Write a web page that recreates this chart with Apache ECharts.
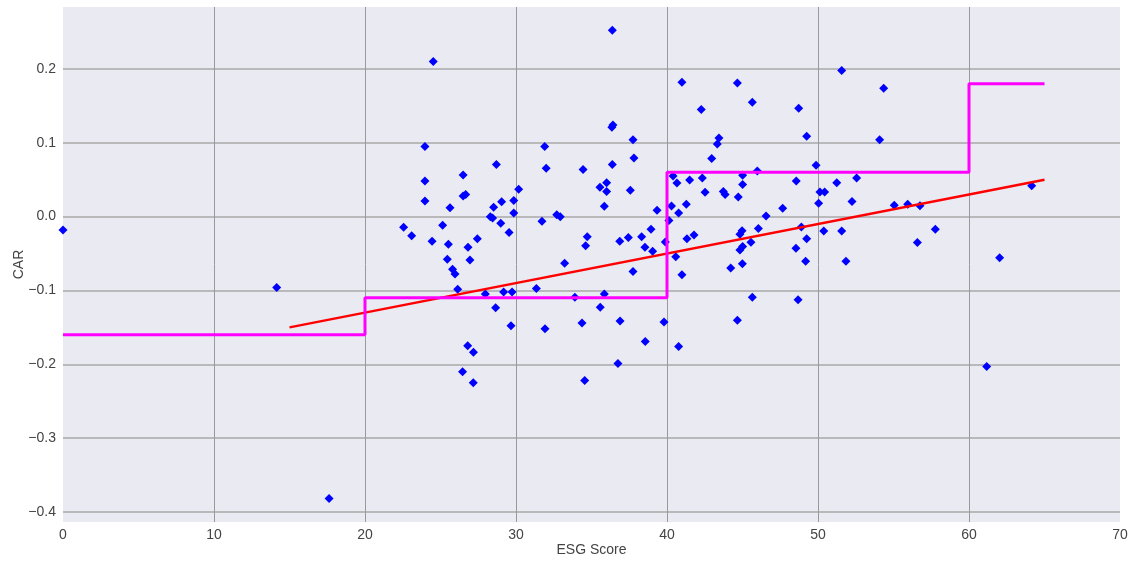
<!DOCTYPE html>
<html>
<head>
<meta charset="utf-8">
<title>CAR vs ESG Score</title>
<script src="https://cdn.jsdelivr.net/npm/echarts@6/dist/echarts.min.js"></script>
<style>
  html, body { margin: 0; padding: 0; background: #ffffff; }
  #chart { width: 1134px; height: 563px; }
</style>
</head>
<body>
<div id="chart"></div>
<script>
// Observations: ESG score and cumulative abnormal return (CAR)
const esgScore = [
  0.0, 14.15, 17.62,
  24.52, 23.97, 31.9, 28.7, 26.5, 23.97, 32.0, 30.18, 26.5, 26.67, 23.97, 29.05, 29.85,
  25.63, 28.52, 29.85, 28.3, 28.45, 31.72, 22.56, 25.14, 28.99, 29.54, 23.09, 24.44,
  25.52, 27.44, 26.82, 25.45, 26.95, 25.8, 25.96, 26.14, 27.97, 29.18, 29.74, 31.35,
  28.65, 29.67, 31.92, 26.8, 27.18, 26.46, 27.17,
  36.38, 40.99, 42.27, 36.35, 36.42, 37.75, 43.44, 43.33, 37.81, 42.96, 34.44, 36.38,
  35.56, 36.0, 36.0, 37.57, 35.85, 32.7, 32.93, 39.34, 40.3, 40.13, 40.77, 41.28,
  40.4, 40.66, 41.5, 42.34, 42.52, 43.73, 43.85, 38.94, 34.72, 34.61, 36.87, 37.44,
  38.32, 38.54, 39.05, 39.89, 41.32, 41.79, 40.58, 33.22, 37.75, 40.99, 33.9, 35.85,
  35.58, 34.37, 36.89, 39.8, 38.56, 40.77, 36.75, 34.55,
  44.66, 45.65, 51.57, 54.35, 48.72, 49.25, 54.08, 49.87, 45.98, 45.01, 45.01, 48.56,
  52.56, 51.24, 50.13, 50.44, 50.04, 52.25, 55.05, 44.72, 47.66, 46.56, 46.05, 48.9,
  50.38, 51.57, 44.97, 44.83, 45.56, 45.01, 44.83, 49.25, 48.54, 44.22, 44.99, 49.18,
  51.85, 45.65, 48.68, 44.66,
  55.94, 56.75, 57.77, 56.58, 62.03, 64.15, 61.17
];
const carValue = [
  -0.018, -0.096, -0.382,
  0.210, 0.095, 0.095, 0.0705, 0.0565, 0.0484, 0.0656, 0.037, 0.028, 0.030, 0.0213, 0.0203, 0.0217,
  0.0122, 0.0127, 0.005, 0.0, -0.0018, -0.0063, -0.0144, -0.0117, -0.009, -0.0216, -0.026, -0.0334,
  -0.0375, -0.0298, -0.0415, -0.0578, -0.0587, -0.0713, -0.0777, -0.0984, -0.1047, -0.102, -0.102, -0.0975,
  -0.1233, -0.1477, -0.152, -0.175, -0.1838, -0.210, -0.225,
  0.2526, 0.182, 0.145, 0.121, 0.124, 0.104, 0.1066, 0.0985, 0.0795, 0.0786, 0.0637, 0.0705,
  0.0398, 0.046, 0.0339, 0.0357, 0.0141, 0.0027, 0.0, 0.0087, 0.0145, -0.0054, 0.005, 0.0168,
  0.055, 0.0457, 0.0497, 0.0524, 0.033, 0.0339, 0.030, -0.0171, -0.0271, -0.0393, -0.0334, -0.0284,
  -0.0271, -0.0415, -0.047, -0.0343, -0.0298, -0.0248, -0.0542, -0.0632, -0.0745, -0.0786, -0.1093, -0.1047,
  -0.1228, -0.144, -0.1413, -0.1427, -0.169, -0.176, -0.199, -0.222,
  0.181, 0.155, 0.198, 0.174, 0.147, 0.109, 0.104, 0.0696, 0.0619, 0.056, 0.0434, 0.0484,
  0.0524, 0.046, 0.0335, 0.0335, 0.0181, 0.0204, 0.0154, 0.0267, 0.0113, 0.001, -0.0162, -0.014,
  -0.0194, -0.0194, -0.019, -0.0239, -0.0347, -0.0406, -0.0451, -0.0298, -0.0428, -0.0695, -0.0637, -0.0605,
  -0.0605, -0.1093, -0.1125, -0.1404,
  0.0168, 0.0149, -0.0171, -0.0352, -0.0556, 0.042, -0.203
];

// Linear fit endpoints
const fitX = [15, 65];
const fitY = [-0.15, 0.05];

// Bin means: bin edges and the mean CAR in each bin
const binEdges = [0, 20, 40, 60, 65];
const binMeans = [-0.16, -0.11, 0.06, 0.18];

// Axis ticks
const xTicks = [0, 10, 20, 30, 40, 50, 60, 70];
const yTicks = [-0.4, -0.3, -0.2, -0.1, 0.0, 0.1, 0.2];

const scatterData = esgScore.map((x, i) => [x, carValue[i]]);
const fitData = fitX.map((x, i) => [x, fitY[i]]);
const stepData = [];
binMeans.forEach((m, i) => {
  stepData.push([binEdges[i], m]);
  stepData.push([binEdges[i + 1], m]);
});

const textColor = '#444444';
const fontFamily = '"Liberation Sans", Arial, sans-serif';

const chart = echarts.init(document.getElementById('chart'), null, { renderer: 'canvas' });
chart.setOption({
  animation: false,
  backgroundColor: '#ffffff',
  grid: {
    left: 63, right: 14, top: 7, bottom: 41,
    containLabel: false, outerBoundsMode: 'none',
    show: true, backgroundColor: '#EAEAF2', borderWidth: 0
  },
  xAxis: {
    type: 'value',
    min: xTicks[0], max: xTicks[xTicks.length - 1], interval: 10,
    name: 'ESG Score', nameLocation: 'middle', nameGap: 21, nameMoveOverlap: false,
    nameTextStyle: { color: textColor, fontSize: 14, fontFamily: fontFamily },
    axisLine: { show: false },
    axisTick: { show: false },
    axisLabel: { color: textColor, fontSize: 14, fontFamily: fontFamily, margin: 6 },
    splitLine: {
      show: true, showMinLine: false, showMaxLine: false,
      lineStyle: { color: '#9a9a9a', width: 1 }
    }
  },
  yAxis: {
    type: 'value',
    min: -0.4137, max: 0.284,
    name: 'CAR', nameLocation: 'middle', nameGap: 37, nameMoveOverlap: false,
    nameTextStyle: { color: textColor, fontSize: 14, fontFamily: fontFamily },
    axisLine: { show: false },
    axisTick: { show: false, customValues: yTicks },
    axisLabel: {
      customValues: yTicks,
      color: textColor, fontSize: 14, fontFamily: fontFamily, margin: 7,
      formatter: v => v.toFixed(1).replace('-', '\u2212')
    },
    splitLine: { show: true, lineStyle: { color: '#a8a8a8', width: 1.5 } }
  },
  series: [
    {
      type: 'scatter',
      data: scatterData,
      symbol: 'diamond',
      symbolSize: 9,
      itemStyle: { color: '#0000ff', opacity: 1 },
      z: 2
    },
    {
      type: 'line',
      data: fitData,
      symbol: 'none',
      lineStyle: { color: '#ff0000', width: 2.5 },
      z: 3
    },
    {
      type: 'line',
      data: stepData,
      symbol: 'none',
      lineStyle: { color: '#ff00ff', width: 3 },
      z: 4
    }
  ]
});
</script>
</body>
</html>
